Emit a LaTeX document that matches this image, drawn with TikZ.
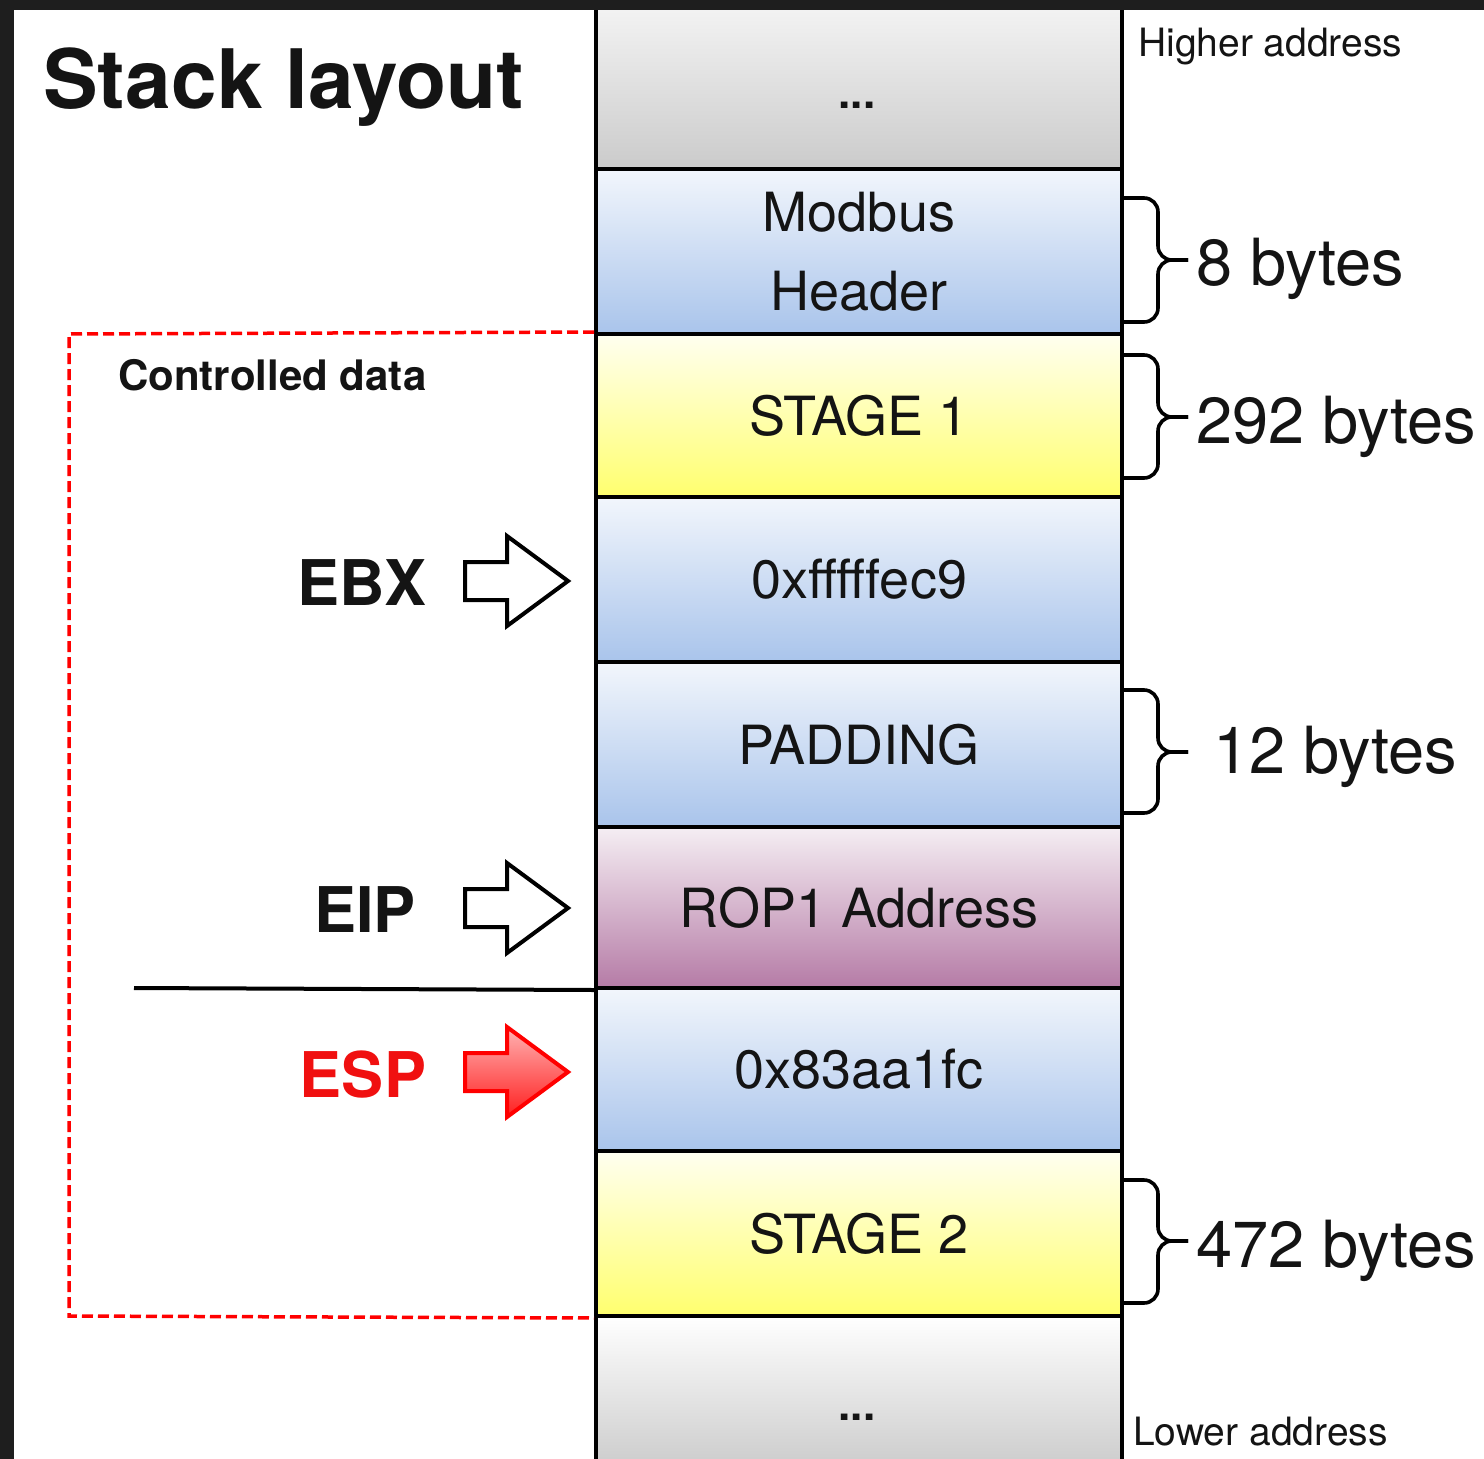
\documentclass[tikz,border=0pt]{standalone}
\usepackage{fontspec}
\setmainfont{TeX Gyre Heros}
\definecolor{blueTop}{HTML}{F2F6FC}
\definecolor{blueBot}{HTML}{A9C4EB}
\definecolor{yelTop}{HTML}{FFFFF0}
\definecolor{yelBot}{HTML}{FFFF6E}
\definecolor{purTop}{HTML}{F5EEF3}
\definecolor{purBot}{HTML}{B57BA6}
\definecolor{grayTop}{HTML}{F7F7F7}
\definecolor{grayBot}{HTML}{CBCBCB}
\definecolor{espRed}{HTML}{F01010}
\definecolor{darkBg}{HTML}{1E1E1E}
\newcommand\bracemark[3]{%
  \draw[bracestyle] (1123,#1) -- (1158,#1) -- (1158,#3) -- (1188,#3);
  \draw[bracestyle] (1123,#2) -- (1158,#2) -- (1158,#3) -- (1188,#3);}
\begin{document}
\begin{tikzpicture}[x=1pt,y=-1pt,
  cell/.style={draw=black, line width=4pt, minimum width=526pt, inner sep=0pt,
    text=black!92, font=\fontsize{54}{79}\selectfont, align=center},
  bluecell/.style={cell, top color=blueTop, bottom color=blueBot},
  yelcell/.style={cell, top color=yelTop, bottom color=yelBot},
  purcell/.style={cell, top color=purTop, bottom color=purBot},
  graycell/.style={cell, top color=grayTop, bottom color=grayBot},
  lowcell/.style={cell, top color=white, bottom color=grayBot!95!black},
  txt/.style={inner sep=0pt, text=black!92},
  regname/.style={inner sep=0pt, font=\fontsize{63}{70}\selectfont\bfseries},
  sizelabel/.style={inner sep=0pt, anchor=base west, font=\fontsize{65}{70}\selectfont, text=black!92},
  bracestyle/.style={draw=black, line width=3.6pt, rounded corners=14pt},
  blockarrow/.pic={\path[pic actions, line width=4pt, line join=miter]
    (0,-19) -- (42,-19) -- (42,-45) -- (103,0) -- (42,45) -- (42,19) -- (0,19) -- cycle;},
]
\useasboundingbox (0,0) rectangle (1484,1459);
\clip (0,0) rectangle (1484,1459);
\fill[darkBg] (0,0) rectangle (1484,1459);
\fill[white] (14,10) rectangle (1484,1459);

% stack cells
\node[graycell, minimum height=179pt] (topcell) at (859,79.5) {};
\node[bluecell, minimum height=165pt] (modbus) at (859,251.5) {Modbus\\Header};
\node[yelcell, minimum height=163pt] (stage1) at (859,415.5) {STAGE 1};
\node[bluecell, minimum height=165pt] (ebxval) at (859,579.5) {0xfffffec9};
\node[bluecell, minimum height=165pt] (padding) at (859,744.5) {PADDING};
\node[purcell, minimum height=161pt] (rop) at (859,907.5) {ROP1 Address};
\node[bluecell, minimum height=163pt] (espval) at (859,1069.5) {0x83aa1fc};
\node[yelcell, minimum height=165pt] (stage2) at (859,1233.5) {STAGE 2};
\node[lowcell, minimum height=184pt] (lowcell) at (859,1408) {};
\node[txt, anchor=base, font=\fontsize{44}{50}\selectfont\bfseries] (topdots) at (857,108) {...};
\node[txt, anchor=base, font=\fontsize{44}{50}\selectfont\bfseries] (lowdots) at (857,1420) {...};

% title and labels
\node[txt, anchor=base west, font=\fontsize{82}{90}\selectfont\bfseries] (title) at (43,108) {Stack layout};
\node[txt, anchor=base west, font=\fontsize{42}{48}\selectfont\bfseries] (ctrl) at (118,390) {Controlled data};
\node[txt, anchor=base west, font=\fontsize{39}{44}\selectfont] (higher) at (1138,56) {Higher address};
\node[txt, anchor=base west, font=\fontsize{39}{44}\selectfont] (lower) at (1133,1445) {Lower address};

% controlled data frame
\draw[red, line width=3.5pt, dash pattern=on 11pt off 5pt] (stage1.north west) -- (69,334) -- (69,1316) -- (stage2.south west);

% separator
\coordinate (sepL) at (134,988);
\draw[black, line width=4pt] (sepL) -- (rop.south west);

% registers
\node[regname, anchor=base, text=black!92] (ebx) at (362,605) {EBX};
\node[regname, anchor=base, text=black!92] (eip) at (365,932) {EIP};
\node[regname, anchor=base, text=espRed] (esp) at (363,1097) {ESP};
\pic[draw=black, fill=white] (ebxarrow) at (465,581) {blockarrow};
\pic[draw=black, fill=white] (eiparrow) at (465,908) {blockarrow};
\pic[draw=red, top color=red!30, bottom color=red!88] (esparrow) at (465,1072) {blockarrow};

% braces and sizes
\bracemark{198}{322}{260}
\bracemark{355}{478}{417}
\bracemark{690}{813}{752}
\bracemark{1180}{1303}{1241}
\node[sizelabel] (s8) at (1196,285) {8 bytes};
\node[sizelabel] (s292) at (1196,443) {292 bytes};
\node[sizelabel] (s12) at (1213,773) {12 bytes};
\node[sizelabel] (s472) at (1196,1267) {472 bytes};

% dark frame edges
\fill[darkBg] (0,0) rectangle (1484,10);
\fill[darkBg] (0,0) rectangle (14,1459);
\end{tikzpicture}
\end{document}
